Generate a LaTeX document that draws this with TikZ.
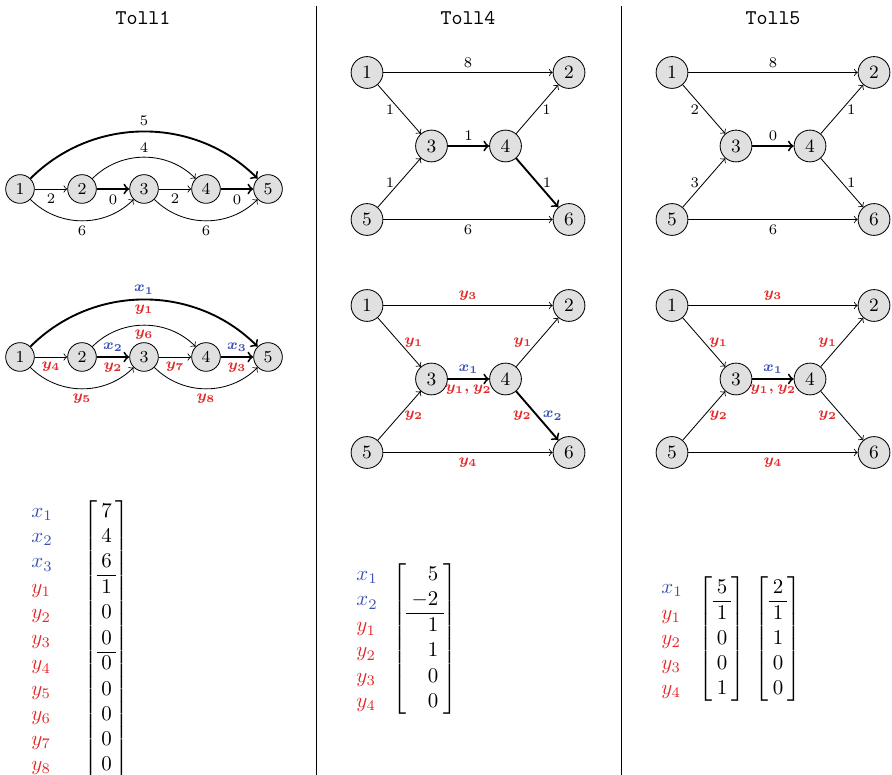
\documentclass[tikz,border=0pt]{standalone}
\usepackage{amsmath}
\definecolor{xblue}{RGB}{60,80,180}
\definecolor{yred}{RGB}{228,40,40}
\newcommand{\xl}[1]{\textcolor{xblue}{\boldsymbol{x_{#1}}}}
\newcommand{\yl}[1]{\textcolor{yred}{\boldsymbol{y_{#1}}}}
\newcommand{\xv}[1]{\textcolor{xblue}{x_{#1}}}
\newcommand{\yv}[1]{\textcolor{yred}{y_{#1}}}
\newcommand{\gap}{\noalign{\vskip\arrayrulewidth}}
\begin{document}
\begin{tikzpicture}[x=0.478pt, y=-0.478pt,
  vsmall/.style={circle, draw, fill=black!12, minimum size=13.7pt, inner sep=0pt, font=\footnotesize},
  vbig/.style={circle, draw, fill=black!12, minimum size=15.2pt, inner sep=0pt, font=\small},
  arc/.style={->, line width=0.4pt},
  hot/.style={->, line width=0.9pt},
  lab/.style={font=\scriptsize, inner sep=2.2pt},
  title/.style={font=\ttfamily},
  sep/.style={line width=0.4pt},
]
\useasboundingbox (0,0) rectangle (892,775);

% column separators
\draw[sep] (316,6) -- (316,775);
\draw[sep] (621,6) -- (621,775);

% titles
\node[title] (t1) at (143,18) {Toll1};
\node[title] (t4) at (468,18) {Toll4};
\node[title] (t5) at (773,18) {Toll5};

% ---------- Toll1: weighted graph ----------
\foreach \i/\x in {1/20,2/82,3/144,4/206,5/268}
  \node[vsmall] (a\i) at (\x,189) {\i};
\draw[arc] (a1) -- node[lab,below]{2} (a2);
\draw[hot] (a2) -- node[lab,below]{0} (a3);
\draw[arc] (a3) -- node[lab,below]{2} (a4);
\draw[hot] (a4) -- node[lab,below]{0} (a5);
\draw[arc] (a1) to[bend right=45] node[lab,below]{6} (a3);
\draw[arc] (a3) to[bend right=45] node[lab,below]{6} (a5);
\draw[arc] (a2) to[bend left=45] node[lab,above]{4} (a4);
\draw[hot] (a1) to[bend left=45] node[lab,above]{5} (a5);

% ---------- Toll1: variables ----------
\foreach \i/\x in {1/20,2/82,3/144,4/206,5/268}
  \node[vsmall] (b\i) at (\x,357) {\i};
\draw[arc] (b1) -- node[lab,below]{$\yl4$} (b2);
\draw[hot] (b2) -- node[lab,above]{$\xl2$} node[lab,below]{$\yl2$} (b3);
\draw[arc] (b3) -- node[lab,below]{$\yl7$} (b4);
\draw[hot] (b4) -- node[lab,above]{$\xl3$} node[lab,below]{$\yl3$} (b5);
\draw[arc] (b1) to[bend right=45] node[lab,below]{$\yl5$} (b3);
\draw[arc] (b3) to[bend right=45] node[lab,below]{$\yl8$} (b5);
\draw[arc] (b2) to[bend left=45] node[lab,below]{$\yl6$} (b4);
\draw[hot] (b1) to[bend left=45] node[lab,above]{$\xl1$} node[lab,below]{$\yl1$} (b5);

% ---------- Toll1: vector ----------
\node (m1l) at (42,639) {$\begin{array}{@{}l@{}}
  \xv1\\ \xv2\\ \xv3\\ \gap \yv1\\ \yv2\\ \yv3\\ \gap \yv4\\ \yv5\\ \yv6\\ \yv7\\ \yv8
  \end{array}$};
\node (m1) at (106.5,639) {$\left[\begin{array}{@{\hspace{2pt}}c@{\hspace{2pt}}}
  7\\ 4\\ 6\\ \hline 1\\ 0\\ 0\\ \hline 0\\ 0\\ 0\\ 0\\ 0
  \end{array}\right]$};

% ---------- Toll4: weighted graph ----------
\node[vbig] (c1) at (367,72.5) {1};
\node[vbig] (c2) at (569,72.5) {2};
\node[vbig] (c3) at (431.5,146) {3};
\node[vbig] (c4) at (505.5,146) {4};
\node[vbig] (c5) at (367,219.5) {5};
\node[vbig] (c6) at (569,219.5) {6};
\draw[arc] (c1) -- node[lab,above]{8} (c2);
\draw[arc] (c1) -- node[lab,left]{1} (c3);
\draw[hot] (c3) -- node[lab,above]{1} (c4);
\draw[arc] (c4) -- node[lab,right]{1} (c2);
\draw[hot] (c4) -- node[lab,right]{1} (c6);
\draw[arc] (c5) -- node[lab,left]{1} (c3);
\draw[arc] (c5) -- node[lab,below]{6} (c6);

% ---------- Toll4: variables ----------
\node[vbig] (d1) at (367,305.5) {1};
\node[vbig] (d2) at (569,305.5) {2};
\node[vbig] (d3) at (431.5,379) {3};
\node[vbig] (d4) at (505.5,379) {4};
\node[vbig] (d5) at (367,452.5) {5};
\node[vbig] (d6) at (569,452.5) {6};
\draw[arc] (d1) -- node[lab,above]{$\yl3$} (d2);
\draw[arc] (d1) -- node[lab,right]{$\yl1$} (d3);
\draw[hot] (d3) -- node[lab,above]{$\xl1$} node[lab,below]{$\textcolor{yred}{\boldsymbol{y_1,y_2}}$} (d4);
\draw[arc] (d4) -- node[lab,left]{$\yl1$} (d2);
\draw[hot] (d4) -- node[lab,left]{$\yl2$} node[lab,right]{$\xl2$} (d6);
\draw[arc] (d5) -- node[lab,right]{$\yl2$} (d3);
\draw[arc] (d5) -- node[lab,below]{$\yl4$} (d6);

% ---------- Toll4: vector ----------
\node (m4l) at (367,639) {$\begin{array}{@{}l@{}}
  \xv1\\ \xv2\\ \gap \yv1\\ \yv2\\ \yv3\\ \yv4
  \end{array}$};
\node (m4) at (425,639) {$\left[\begin{array}{@{\hspace{2.5pt}}r@{\hspace{2.5pt}}}
  5\\ -2\\ \hline 1\\ 1\\ 0\\ 0
  \end{array}\right]$};

% ---------- Toll5: weighted graph ----------
\node[vbig] (e1) at (672,72.5) {1};
\node[vbig] (e2) at (874,72.5) {2};
\node[vbig] (e3) at (736,146) {3};
\node[vbig] (e4) at (810,146) {4};
\node[vbig] (e5) at (672,219.5) {5};
\node[vbig] (e6) at (874,219.5) {6};
\draw[arc] (e1) -- node[lab,above]{8} (e2);
\draw[arc] (e1) -- node[lab,left]{2} (e3);
\draw[hot] (e3) -- node[lab,above]{0} (e4);
\draw[arc] (e4) -- node[lab,right]{1} (e2);
\draw[arc] (e4) -- node[lab,right]{1} (e6);
\draw[arc] (e5) -- node[lab,left]{3} (e3);
\draw[arc] (e5) -- node[lab,below]{6} (e6);

% ---------- Toll5: variables ----------
\node[vbig] (f1) at (672,305.5) {1};
\node[vbig] (f2) at (874,305.5) {2};
\node[vbig] (f3) at (736,379) {3};
\node[vbig] (f4) at (810,379) {4};
\node[vbig] (f5) at (672,452.5) {5};
\node[vbig] (f6) at (874,452.5) {6};
\draw[arc] (f1) -- node[lab,above]{$\yl3$} (f2);
\draw[arc] (f1) -- node[lab,right]{$\yl1$} (f3);
\draw[hot] (f3) -- node[lab,above]{$\xl1$} node[lab,below]{$\textcolor{yred}{\boldsymbol{y_1,y_2}}$} (f4);
\draw[arc] (f4) -- node[lab,left]{$\yl1$} (f2);
\draw[arc] (f4) -- node[lab,left]{$\yl2$} (f6);
\draw[arc] (f5) -- node[lab,right]{$\yl2$} (f3);
\draw[arc] (f5) -- node[lab,below]{$\yl4$} (f6);

% ---------- Toll5: vectors ----------
\node (m5l) at (672,639) {$\begin{array}{@{}l@{}}
  \xv1\\ \gap \yv1\\ \yv2\\ \yv3\\ \yv4
  \end{array}$};
\node (m5a) at (722,639) {$\left[\begin{array}{@{\hspace{2pt}}c@{\hspace{2pt}}}
  5\\ \hline 1\\ 0\\ 0\\ 1
  \end{array}\right]$};
\node (m5b) at (778,639) {$\left[\begin{array}{@{\hspace{2pt}}c@{\hspace{2pt}}}
  2\\ \hline 1\\ 1\\ 0\\ 0
  \end{array}\right]$};
\end{tikzpicture}
\end{document}
